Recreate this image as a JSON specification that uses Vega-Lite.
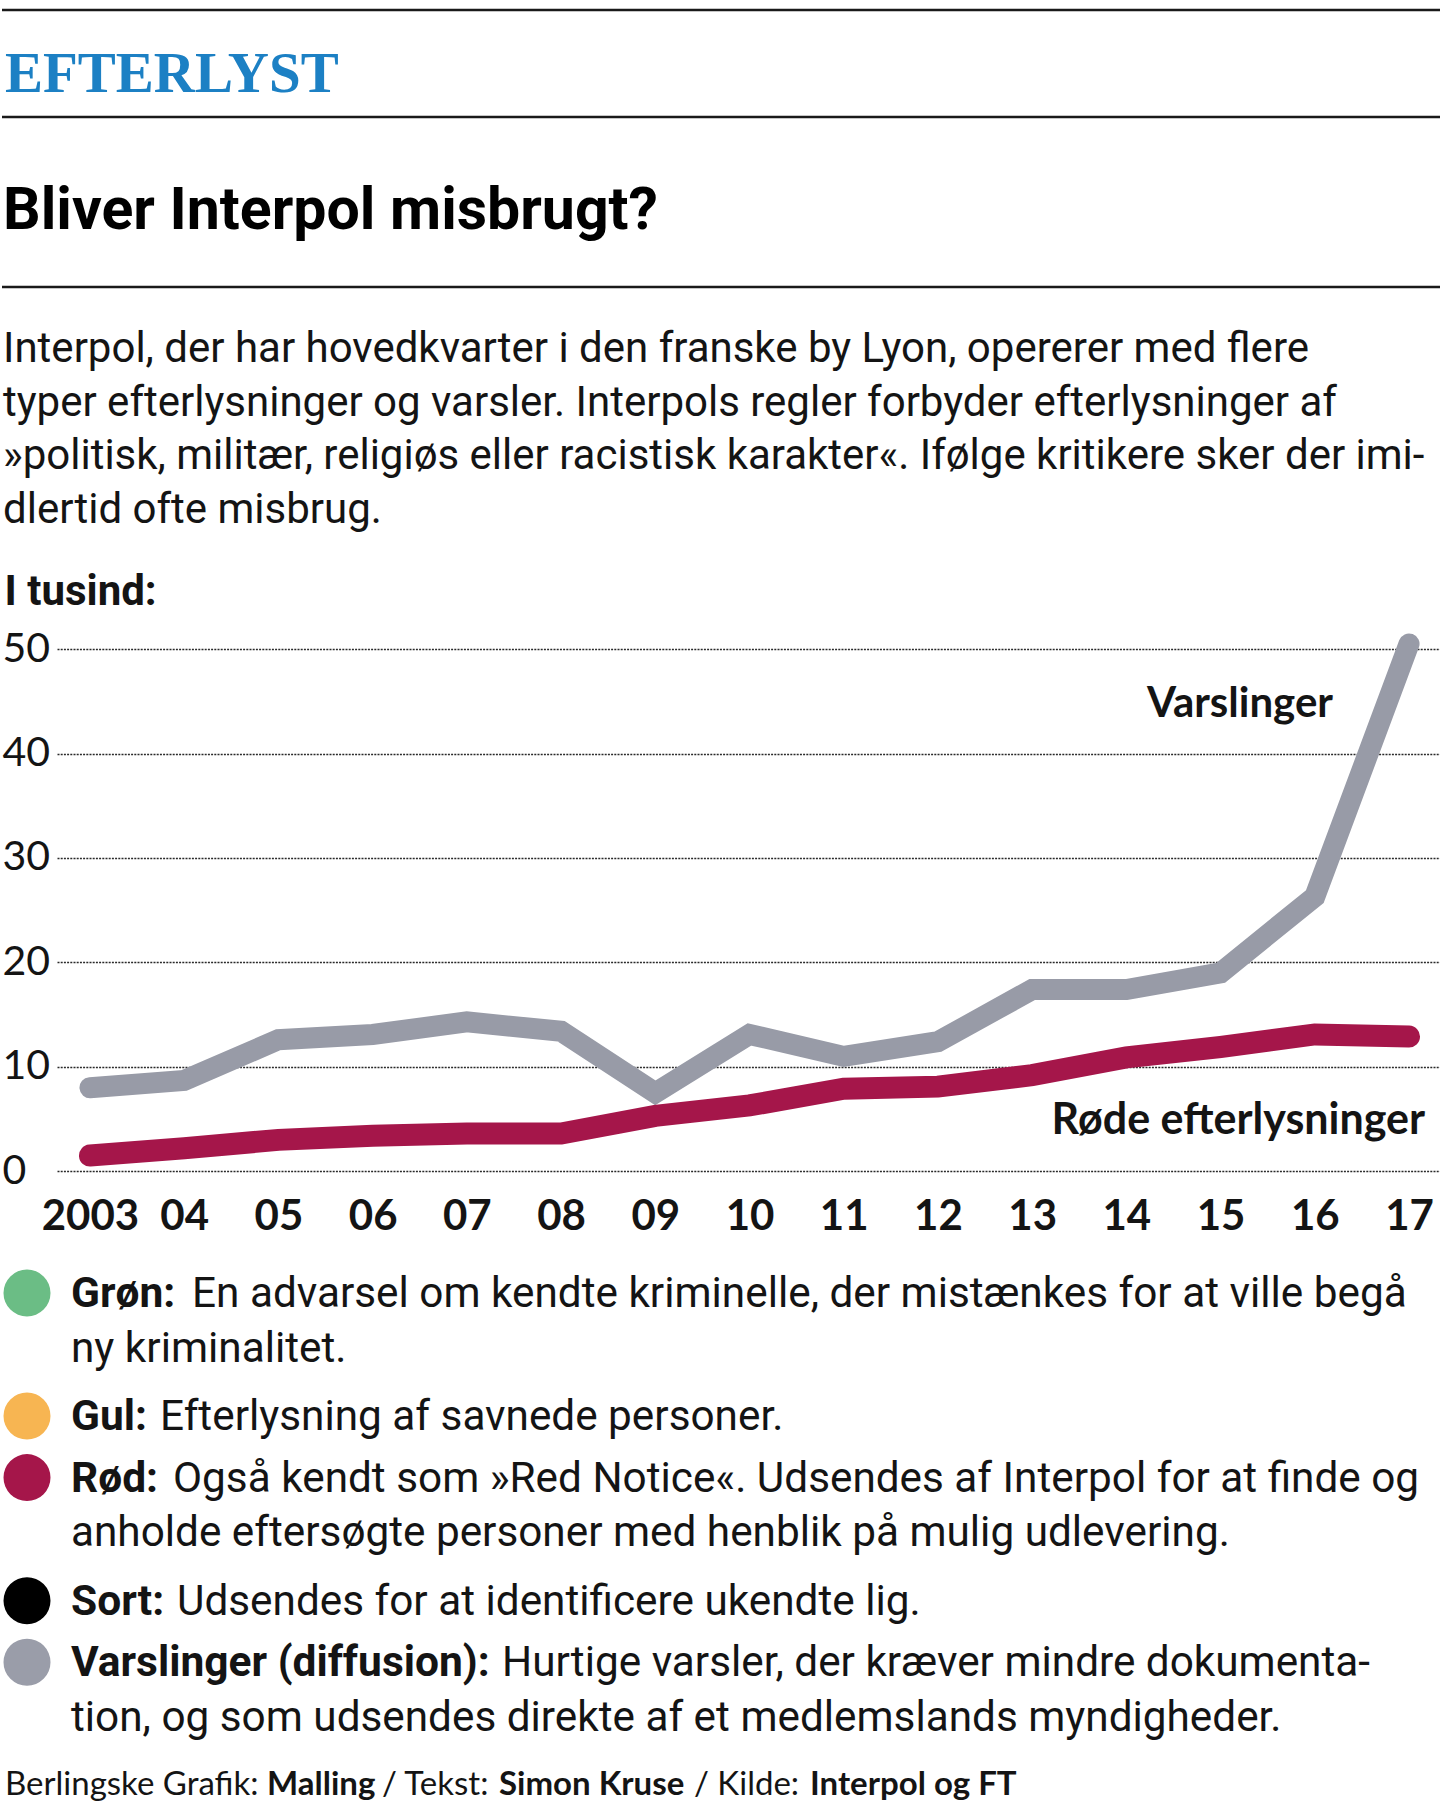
{
  "$schema": "https://vega.github.io/schema/vega-lite/v6.json",
  "background": "#ffffff",
  "padding": {"left": 0, "top": 8, "right": 0, "bottom": 0},
  "bounds": "flush",
  "spacing": 0,
  "config": {
    "view": {"stroke": null},
    "font": "Lato",
    "text": {"font": "Lato", "color": "#141414"}
  },
  "datasets": {
    "series": [
      {"series": "Varslinger", "year": 2003, "value": 8.0},
      {"series": "Varslinger", "year": 2004, "value": 8.7},
      {"series": "Varslinger", "year": 2005, "value": 12.6},
      {"series": "Varslinger", "year": 2006, "value": 13.1},
      {"series": "Varslinger", "year": 2007, "value": 14.3},
      {"series": "Varslinger", "year": 2008, "value": 13.4},
      {"series": "Varslinger", "year": 2009, "value": 7.5},
      {"series": "Varslinger", "year": 2010, "value": 13.1},
      {"series": "Varslinger", "year": 2011, "value": 11.0},
      {"series": "Varslinger", "year": 2012, "value": 12.4},
      {"series": "Varslinger", "year": 2013, "value": 17.4},
      {"series": "Varslinger", "year": 2014, "value": 17.4},
      {"series": "Varslinger", "year": 2015, "value": 19.0},
      {"series": "Varslinger", "year": 2016, "value": 26.3},
      {"series": "Varslinger", "year": 2017, "value": 50.5},
      {"series": "Røde efterlysninger", "year": 2003, "value": 1.5},
      {"series": "Røde efterlysninger", "year": 2004, "value": 2.2},
      {"series": "Røde efterlysninger", "year": 2005, "value": 3.0},
      {"series": "Røde efterlysninger", "year": 2006, "value": 3.4},
      {"series": "Røde efterlysninger", "year": 2007, "value": 3.6},
      {"series": "Røde efterlysninger", "year": 2008, "value": 3.6},
      {"series": "Røde efterlysninger", "year": 2009, "value": 5.3},
      {"series": "Røde efterlysninger", "year": 2010, "value": 6.3},
      {"series": "Røde efterlysninger", "year": 2011, "value": 7.9},
      {"series": "Røde efterlysninger", "year": 2012, "value": 8.1},
      {"series": "Røde efterlysninger", "year": 2013, "value": 9.2},
      {"series": "Røde efterlysninger", "year": 2014, "value": 10.9},
      {"series": "Røde efterlysninger", "year": 2015, "value": 11.9},
      {"series": "Røde efterlysninger", "year": 2016, "value": 13.1},
      {"series": "Røde efterlysninger", "year": 2017, "value": 12.9}
    ],
    "intro": [
      {"line": 1, "text": "Interpol, der har hovedkvarter i den franske by Lyon, opererer med flere"},
      {"line": 2, "text": "typer efterlysninger og varsler. Interpols regler forbyder efterlysninger af"},
      {"line": 3, "text": "»politisk, militær, religiøs eller racistisk karakter«. Ifølge kritikere sker der imi-"},
      {"line": 4, "text": "dlertid ofte misbrug."}
    ],
    "legendRows": [
      {"row": 1, "entry": "Grøn", "label": "Grøn:", "body": "En advarsel om kendte kriminelle, der mistænkes for at ville begå"},
      {"row": 2, "entry": "Grøn", "label": "", "body": "ny kriminalitet."},
      {"row": 3, "entry": "Gul", "label": "Gul:", "body": "Efterlysning af savnede personer."},
      {"row": 4, "entry": "Rød", "label": "Rød:", "body": "Også kendt som »Red Notice«. Udsendes af Interpol for at finde og"},
      {"row": 5, "entry": "Rød", "label": "", "body": "anholde eftersøgte personer med henblik på mulig udlevering."},
      {"row": 6, "entry": "Sort", "label": "Sort:", "body": "Udsendes for at identificere ukendte lig."},
      {"row": 7, "entry": "Varslinger", "label": "Varslinger (diffusion):", "body": "Hurtige varsler, der kræver mindre dokumenta-"},
      {"row": 8, "entry": "Varslinger", "label": "", "body": "tion, og som udsendes direkte af et medlemslands myndigheder."}
    ],
    "footer": [
      {"row": 9, "seg": 1, "text": "Berlingske Grafik:"},
      {"row": 9, "seg": 2, "text": "Malling"},
      {"row": 9, "seg": 3, "text": "/ Tekst:"},
      {"row": 9, "seg": 4, "text": "Simon Kruse"},
      {"row": 9, "seg": 5, "text": "/ Kilde:"},
      {"row": 9, "seg": 6, "text": "Interpol og FT"}
    ]
  },
  "vconcat": [
    {
      "width": 1440,
      "height": 107,
      "view": {"stroke": "#1a1a1a", "strokeWidth": 2.6, "strokeDash": [1440, 107, 1440, 107]},
      "data": {"values": [{"kicker": "EFTERLYST"}]},
      "mark": {"type": "text", "align": "left", "baseline": "alphabetic", "font": "Liberation Serif, serif", "fontSize": 57, "fontWeight": "bold", "color": "#1c80c4", "dx": 3, "dy": 28.5},
      "encoding": {
        "x": {"datum": 0, "type": "quantitative", "scale": {"domain": [0, 1]}, "axis": null},
        "text": {"field": "kicker"}
      }
    },
    {
      "width": 1440,
      "height": 170,
      "view": {"stroke": "#1a1a1a", "strokeWidth": 2.6, "strokeDash": [0, 1610, 1440, 170]},
      "data": {"values": [{"headline": "Bliver Interpol misbrugt?"}]},
      "mark": {"type": "text", "align": "left", "baseline": "alphabetic", "font": "Roboto", "fontSize": 59, "fontWeight": "bold", "color": "#000000", "dx": 1, "dy": 27},
      "encoding": {
        "x": {"datum": 0, "type": "quantitative", "scale": {"domain": [0, 1]}, "axis": null},
        "text": {"field": "headline"}
      }
    },
    {
      "width": 1440,
      "height": 312.5,
      "data": {"name": "intro"},
      "mark": {"type": "text", "align": "left", "baseline": "alphabetic", "font": "Roboto", "fontSize": 42, "color": "#141414", "dx": 1},
      "encoding": {
        "x": {"datum": 0, "type": "quantitative", "scale": {"domain": [0, 1]}, "axis": null},
        "y": {"field": "line", "type": "ordinal", "scale": {"type": "point", "padding": 0, "range": [75, 235.5]}, "axis": null},
        "text": {"field": "text"}
      }
    },
    {
      "width": 1440,
      "height": 571.2,
      "data": {"name": "series"},
      "encoding": {
        "x": {
          "field": "year", "type": "quantitative",
          "scale": {"domain": [2002.65, 2017.35], "range": [55, 1440], "zero": false, "nice": false},
          "axis": {
            "values": [2003, 2004, 2005, 2006, 2007, 2008, 2009, 2010, 2011, 2012, 2013, 2014, 2015, 2016, 2017],
            "labelExpr": "datum.value == 2003 ? '2003' : slice(toString(datum.value), 2)",
            "title": null, "domain": false, "ticks": false, "grid": false,
            "labelFont": "Lato", "labelFontWeight": "bold", "labelFontSize": 42, "labelColor": "#141414",
            "labelPadding": 58, "labelBaseline": "alphabetic", "labelFlush": false, "labelOverlap": false
          }
        },
        "y": {
          "field": "value", "type": "quantitative",
          "scale": {"domain": [0, 54.71], "nice": false, "zero": true},
          "axis": {
            "values": [0, 10, 20, 30, 40, 50],
            "title": "I tusind:", "titleAngle": 0, "titleAlign": "left", "titleBaseline": "alphabetic",
            "titleX": 2, "titleY": 4.5, "titleFont": "Roboto", "titleFontSize": 42, "titleFontWeight": "bold", "titleColor": "#141414",
            "domain": false, "ticks": false,
            "labelAlign": "left", "labelBaseline": "middle", "labelPadding": 0,
            "labelFont": "Lato", "labelFontSize": 41, "labelColor": "#141414", "labelFlush": false, "labelOverlap": false,
            "grid": true, "gridColor": "#2a2a2a", "gridDash": [2, 1.2], "gridWidth": 1.5
          }
        }
      },
      "layer": [
        {
          "transform": [{"filter": "datum.series == 'Varslinger'"}],
          "mark": {"type": "line", "color": "#989ba7", "strokeWidth": 21, "strokeCap": "round"}
        },
        {
          "transform": [{"filter": "datum.series == 'Røde efterlysninger'"}],
          "mark": {"type": "line", "color": "#a5164a", "strokeWidth": 22, "strokeCap": "round"}
        },
        {
          "transform": [{"filter": "datum.series == 'Varslinger' && datum.year == 2017"}],
          "mark": {"type": "text", "align": "right", "baseline": "alphabetic", "dx": -76, "dy": 73, "font": "Lato", "fontSize": 42, "fontWeight": "bold", "color": "#141414"},
          "encoding": {"text": {"field": "series"}}
        },
        {
          "transform": [{"filter": "datum.series == 'Røde efterlysninger' && datum.year == 2017"}],
          "mark": {"type": "text", "align": "right", "baseline": "alphabetic", "dx": 16, "dy": 97, "font": "Lato", "fontSize": 43, "fontWeight": "bold", "color": "#141414"},
          "encoding": {"text": {"field": "series"}}
        }
      ]
    },
    {
      "width": 1440,
      "height": 642.3,
      "layer": [
        {
          "data": {"name": "legendRows"},
          "transform": [{"filter": "datum.label != ''"}],
          "mark": {"type": "circle", "size": 2209, "opacity": 1},
          "encoding": {
            "x": {"datum": "dot", "type": "nominal", "scale": {"type": "point", "domain": ["dot", "text"], "range": [25, 69], "padding": 0}, "axis": null},
            "y": {"field": "row", "type": "ordinal", "scale": {"type": "point", "domain": [1, 2, 3, 4, 5, 6, 7, 8, 9], "range": [121, 613.3], "padding": 0}, "axis": null},
            "color": {"field": "entry", "type": "nominal", "scale": {"domain": ["Grøn", "Gul", "Rød", "Sort", "Varslinger"], "range": ["#6bbd85", "#f7b552", "#a5164a", "#000000", "#9a9da9"]}, "legend": null}
          }
        },
        {
          "data": {"name": "legendRows"},
          "transform": [{"filter": "datum.label != ''"}],
          "mark": {"type": "text", "align": "left", "baseline": "alphabetic", "dy": 14, "font": "Roboto", "fontSize": 42.5, "fontWeight": "bold", "color": "#141414"},
          "encoding": {
            "x": {"datum": "text", "type": "nominal", "scale": {"type": "point", "domain": ["dot", "text"], "range": [25, 69], "padding": 0}, "axis": null},
            "y": {"field": "row", "type": "ordinal", "scale": {"type": "point", "domain": [1, 2, 3, 4, 5, 6, 7, 8, 9], "range": [121, 613.3], "padding": 0}, "axis": null},
            "text": {"field": "label"}
          }
        },
        {
          "data": {"name": "legendRows"},
          "transform": [{"filter": "datum.label == ''"}],
          "mark": {"type": "text", "align": "left", "baseline": "alphabetic", "dy": 7, "font": "Roboto", "fontSize": 42.3, "color": "#141414"},
          "encoding": {
            "x": {"datum": "text", "type": "nominal", "scale": {"type": "point", "domain": ["dot", "text"], "range": [25, 69], "padding": 0}, "axis": null},
            "y": {"field": "row", "type": "ordinal", "scale": {"type": "point", "domain": [1, 2, 3, 4, 5, 6, 7, 8, 9], "range": [121, 613.3], "padding": 0}, "axis": null},
            "text": {"field": "body"}
          }
        },
        {
          "data": {"name": "legendRows"},
          "transform": [{"filter": "datum.label == 'Grøn:'"}],
          "mark": {"type": "text", "align": "left", "baseline": "alphabetic", "dx": 121, "dy": 14, "font": "Roboto", "fontSize": 42.3, "color": "#141414"},
          "encoding": {
            "x": {"datum": "text", "type": "nominal", "scale": {"type": "point", "domain": ["dot", "text"], "range": [25, 69], "padding": 0}, "axis": null},
            "y": {"field": "row", "type": "ordinal", "scale": {"type": "point", "domain": [1, 2, 3, 4, 5, 6, 7, 8, 9], "range": [121, 613.3], "padding": 0}, "axis": null},
            "text": {"field": "body"}
          }
        },
        {
          "data": {"name": "legendRows"},
          "transform": [{"filter": "datum.label == 'Gul:'"}],
          "mark": {"type": "text", "align": "left", "baseline": "alphabetic", "dx": 89, "dy": 14, "font": "Roboto", "fontSize": 42.3, "color": "#141414"},
          "encoding": {
            "x": {"datum": "text", "type": "nominal", "scale": {"type": "point", "domain": ["dot", "text"], "range": [25, 69], "padding": 0}, "axis": null},
            "y": {"field": "row", "type": "ordinal", "scale": {"type": "point", "domain": [1, 2, 3, 4, 5, 6, 7, 8, 9], "range": [121, 613.3], "padding": 0}, "axis": null},
            "text": {"field": "body"}
          }
        },
        {
          "data": {"name": "legendRows"},
          "transform": [{"filter": "datum.label == 'Rød:'"}],
          "mark": {"type": "text", "align": "left", "baseline": "alphabetic", "dx": 102, "dy": 14, "font": "Roboto", "fontSize": 42.3, "color": "#141414"},
          "encoding": {
            "x": {"datum": "text", "type": "nominal", "scale": {"type": "point", "domain": ["dot", "text"], "range": [25, 69], "padding": 0}, "axis": null},
            "y": {"field": "row", "type": "ordinal", "scale": {"type": "point", "domain": [1, 2, 3, 4, 5, 6, 7, 8, 9], "range": [121, 613.3], "padding": 0}, "axis": null},
            "text": {"field": "body"}
          }
        },
        {
          "data": {"name": "legendRows"},
          "transform": [{"filter": "datum.label == 'Sort:'"}],
          "mark": {"type": "text", "align": "left", "baseline": "alphabetic", "dx": 106, "dy": 14, "font": "Roboto", "fontSize": 42.3, "color": "#141414"},
          "encoding": {
            "x": {"datum": "text", "type": "nominal", "scale": {"type": "point", "domain": ["dot", "text"], "range": [25, 69], "padding": 0}, "axis": null},
            "y": {"field": "row", "type": "ordinal", "scale": {"type": "point", "domain": [1, 2, 3, 4, 5, 6, 7, 8, 9], "range": [121, 613.3], "padding": 0}, "axis": null},
            "text": {"field": "body"}
          }
        },
        {
          "data": {"name": "legendRows"},
          "transform": [{"filter": "datum.label == 'Varslinger (diffusion):'"}],
          "mark": {"type": "text", "align": "left", "baseline": "alphabetic", "dx": 431, "dy": 14, "font": "Roboto", "fontSize": 42.3, "color": "#141414"},
          "encoding": {
            "x": {"datum": "text", "type": "nominal", "scale": {"type": "point", "domain": ["dot", "text"], "range": [25, 69], "padding": 0}, "axis": null},
            "y": {"field": "row", "type": "ordinal", "scale": {"type": "point", "domain": [1, 2, 3, 4, 5, 6, 7, 8, 9], "range": [121, 613.3], "padding": 0}, "axis": null},
            "text": {"field": "body"}
          }
        },
        {
          "data": {"name": "footer"},
          "transform": [{"filter": "datum.seg == 1"}],
          "mark": {"type": "text", "align": "left", "baseline": "alphabetic", "dx": -22, "dy": 10, "font": "Lato", "fontSize": 33, "color": "#141414"},
          "encoding": {
            "x": {"datum": "dot", "type": "nominal", "scale": {"type": "point", "domain": ["dot", "text"], "range": [25, 69], "padding": 0}, "axis": null},
            "y": {"field": "row", "type": "ordinal", "scale": {"type": "point", "domain": [1, 2, 3, 4, 5, 6, 7, 8, 9], "range": [121, 613.3], "padding": 0}, "axis": null},
            "text": {"field": "text"}
          }
        },
        {
          "data": {"name": "footer"},
          "transform": [{"filter": "datum.seg == 2"}],
          "mark": {"type": "text", "align": "left", "baseline": "alphabetic", "dx": 240, "dy": 10, "font": "Lato", "fontSize": 33, "fontWeight": "bold", "color": "#141414"},
          "encoding": {
            "x": {"datum": "dot", "type": "nominal", "scale": {"type": "point", "domain": ["dot", "text"], "range": [25, 69], "padding": 0}, "axis": null},
            "y": {"field": "row", "type": "ordinal", "scale": {"type": "point", "domain": [1, 2, 3, 4, 5, 6, 7, 8, 9], "range": [121, 613.3], "padding": 0}, "axis": null},
            "text": {"field": "text"}
          }
        },
        {
          "data": {"name": "footer"},
          "transform": [{"filter": "datum.seg == 3"}],
          "mark": {"type": "text", "align": "left", "baseline": "alphabetic", "dx": 355, "dy": 10, "font": "Lato", "fontSize": 33, "color": "#141414"},
          "encoding": {
            "x": {"datum": "dot", "type": "nominal", "scale": {"type": "point", "domain": ["dot", "text"], "range": [25, 69], "padding": 0}, "axis": null},
            "y": {"field": "row", "type": "ordinal", "scale": {"type": "point", "domain": [1, 2, 3, 4, 5, 6, 7, 8, 9], "range": [121, 613.3], "padding": 0}, "axis": null},
            "text": {"field": "text"}
          }
        },
        {
          "data": {"name": "footer"},
          "transform": [{"filter": "datum.seg == 4"}],
          "mark": {"type": "text", "align": "left", "baseline": "alphabetic", "dx": 472, "dy": 10, "font": "Lato", "fontSize": 33, "fontWeight": "bold", "color": "#141414"},
          "encoding": {
            "x": {"datum": "dot", "type": "nominal", "scale": {"type": "point", "domain": ["dot", "text"], "range": [25, 69], "padding": 0}, "axis": null},
            "y": {"field": "row", "type": "ordinal", "scale": {"type": "point", "domain": [1, 2, 3, 4, 5, 6, 7, 8, 9], "range": [121, 613.3], "padding": 0}, "axis": null},
            "text": {"field": "text"}
          }
        },
        {
          "data": {"name": "footer"},
          "transform": [{"filter": "datum.seg == 5"}],
          "mark": {"type": "text", "align": "left", "baseline": "alphabetic", "dx": 667, "dy": 10, "font": "Lato", "fontSize": 33, "color": "#141414"},
          "encoding": {
            "x": {"datum": "dot", "type": "nominal", "scale": {"type": "point", "domain": ["dot", "text"], "range": [25, 69], "padding": 0}, "axis": null},
            "y": {"field": "row", "type": "ordinal", "scale": {"type": "point", "domain": [1, 2, 3, 4, 5, 6, 7, 8, 9], "range": [121, 613.3], "padding": 0}, "axis": null},
            "text": {"field": "text"}
          }
        },
        {
          "data": {"name": "footer"},
          "transform": [{"filter": "datum.seg == 6"}],
          "mark": {"type": "text", "align": "left", "baseline": "alphabetic", "dx": 783, "dy": 10, "font": "Lato", "fontSize": 33, "fontWeight": "bold", "color": "#141414"},
          "encoding": {
            "x": {"datum": "dot", "type": "nominal", "scale": {"type": "point", "domain": ["dot", "text"], "range": [25, 69], "padding": 0}, "axis": null},
            "y": {"field": "row", "type": "ordinal", "scale": {"type": "point", "domain": [1, 2, 3, 4, 5, 6, 7, 8, 9], "range": [121, 613.3], "padding": 0}, "axis": null},
            "text": {"field": "text"}
          }
        }
      ]
    }
  ]
}
